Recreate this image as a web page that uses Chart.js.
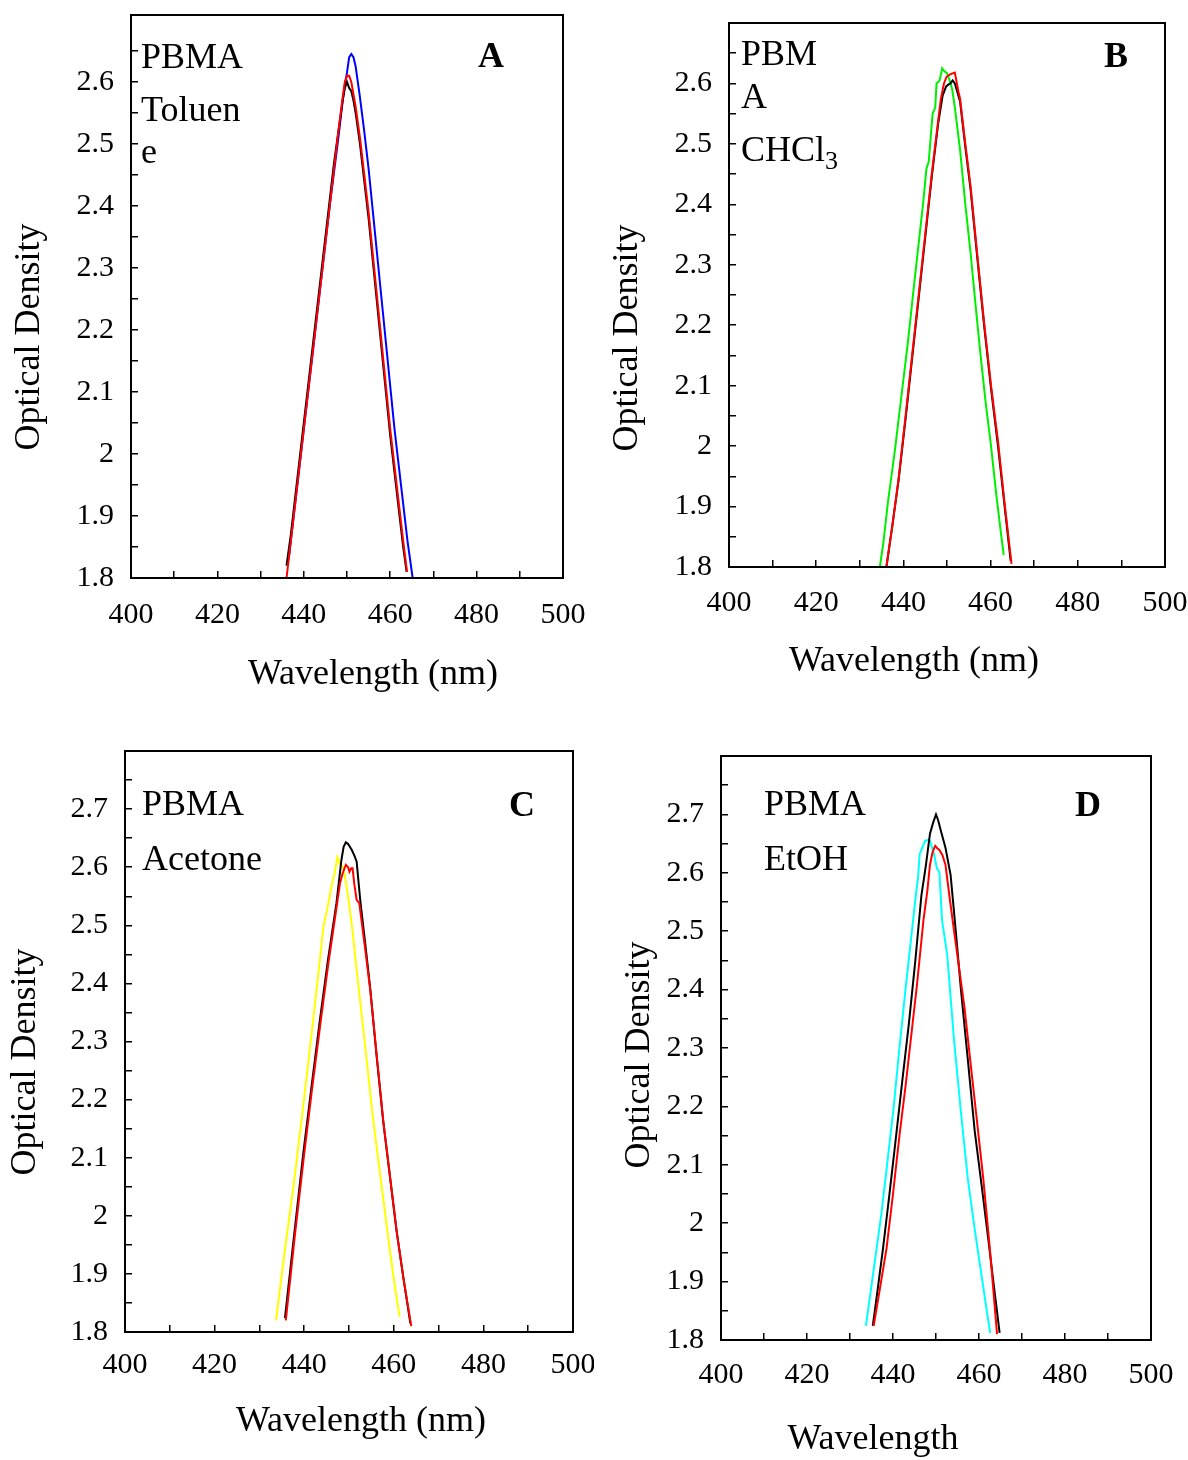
<!DOCTYPE html>
<html>
<head>
<meta charset="utf-8">
<script src="https://cdn.jsdelivr.net/npm/chart.js@4/dist/chart.umd.min.js"></script>
<style>
  body { margin: 0; background: #fff; width: 1188px; height: 1460px; position: relative; overflow: hidden; }
  canvas { position: absolute; }
</style>
</head>
<body>
<canvas id="cA"></canvas>
<canvas id="cB"></canvas>
<canvas id="cC"></canvas>
<canvas id="cD"></canvas>
<script>
// x ticks every 10 nm, labels every 20 nm; y ticks every 0.05, labels every 0.1
const xMin = 400, xMax = 500, xStep = 10, xLabelEvery = 20;
const yMin = 1.8, yStep = 0.05;

// --- A: PBMA / Toluene ---
const wlA_blue  = [436.5, 438, 440, 442, 444, 446, 448, 449, 449.5, 450, 450.5, 451, 451.5, 452, 453, 454, 455, 456, 457, 458, 459, 460, 461, 462, 463, 464, 465.2];
const odA_blue  = [1.83, 1.92, 2.04, 2.16, 2.28, 2.40, 2.51, 2.57, 2.595, 2.615, 2.64, 2.645, 2.64, 2.625, 2.575, 2.52, 2.46, 2.39, 2.32, 2.25, 2.18, 2.11, 2.04, 1.98, 1.92, 1.86, 1.80];
const wlA_black = [436, 437, 438, 439, 440, 441, 442, 443, 444, 445, 446, 447, 448, 449, 449.5, 450, 450.5, 451, 451.5, 452, 453, 454, 455, 456, 457, 458, 459, 460, 461, 462, 463, 463.8];
const odA_black = [1.82, 1.87, 1.93, 1.99, 2.05, 2.11, 2.17, 2.23, 2.29, 2.35, 2.41, 2.47, 2.52, 2.57, 2.59, 2.60, 2.59, 2.585, 2.57, 2.55, 2.50, 2.44, 2.38, 2.31, 2.24, 2.17, 2.10, 2.03, 1.97, 1.91, 1.85, 1.81];
const wlA_red   = [436, 437, 438, 439, 440, 441, 442, 443, 444, 445, 446, 447, 448, 449, 449.5, 450, 450.5, 451, 451.5, 452, 453, 454, 455, 456, 457, 458, 459, 460, 461, 462, 463, 463.9];
const odA_red   = [1.80, 1.86, 1.92, 1.98, 2.04, 2.10, 2.16, 2.22, 2.28, 2.34, 2.40, 2.46, 2.52, 2.575, 2.60, 2.61, 2.61, 2.60, 2.58, 2.56, 2.51, 2.45, 2.39, 2.32, 2.25, 2.18, 2.11, 2.04, 1.98, 1.92, 1.86, 1.81];

// --- B: PBMA / CHCl3 ---
const wlB_green = [434.6, 435.4, 436.5, 438, 439.5, 441, 442.8, 444.5, 445.3, 445.8, 446.7, 447.3, 447.6, 448.3, 448.9, 449.4, 450, 450.6, 451.2, 451.8, 453, 454.2, 455.4, 456.6, 457.7, 458.9, 460.1, 461.3, 462.3, 463];
const odB_green = [1.80, 1.84, 1.91, 1.99, 2.08, 2.17, 2.29, 2.40, 2.46, 2.47, 2.55, 2.56, 2.60, 2.605, 2.625, 2.62, 2.617, 2.605, 2.59, 2.56, 2.49, 2.40, 2.32, 2.23, 2.15, 2.07, 2.00, 1.92, 1.86, 1.82];
const wlB_black = [436.1, 437.5, 438.9, 440.5, 442, 443.5, 445, 446.5, 448, 449, 449.8, 450.3, 450.8, 451.3, 451.8, 452.2, 453, 454.2, 455.4, 456.9, 458.5, 460.1, 461.7, 463.3, 464.6];
const odB_black = [1.80, 1.87, 1.944, 2.045, 2.145, 2.245, 2.345, 2.445, 2.535, 2.58, 2.595, 2.598, 2.60, 2.605, 2.60, 2.59, 2.57, 2.495, 2.425, 2.315, 2.20, 2.095, 2.00, 1.895, 1.81];
const wlB_red   = [436.1, 437.5, 438.9, 440.5, 442, 443.5, 445, 446.5, 448, 448.6, 449.3, 449.9, 450.7, 451.8, 452.6, 453, 454.2, 455.4, 456.9, 458.5, 460.1, 461.7, 463.3, 464.8];
const odB_red   = [1.80, 1.87, 1.946, 2.05, 2.15, 2.25, 2.35, 2.45, 2.54, 2.575, 2.60, 2.611, 2.615, 2.618, 2.587, 2.575, 2.50, 2.43, 2.32, 2.205, 2.10, 2.008, 1.90, 1.805];

// --- C: PBMA / Acetone ---
const wlC_yellow = [433.7, 435.5, 437.6, 439.8, 442.0, 443.2, 444.3, 445.2, 446.1, 446.8, 447.4, 448.0, 448.7, 449.3, 449.8, 450.8, 451.7, 453.5, 455.4, 457.3, 459.2, 460.4, 461.3];
const odC_yellow = [1.82, 1.93, 2.05, 2.19, 2.337, 2.42, 2.498, 2.53, 2.567, 2.59, 2.617, 2.605, 2.60, 2.575, 2.549, 2.49, 2.423, 2.30, 2.165, 2.05, 1.936, 1.87, 1.826];
const wlC_black  = [435.7, 437.8, 439.8, 441.6, 443.5, 445.3, 447.2, 448.3, 448.8, 449.3, 449.8, 450.6, 451.2, 451.7, 452.5, 453.6, 454.7, 456.1, 457.6, 459.1, 460.6, 462.2, 463.7];
const odC_black  = [1.824, 1.97, 2.108, 2.22, 2.337, 2.44, 2.538, 2.612, 2.635, 2.643, 2.64, 2.63, 2.62, 2.61, 2.544, 2.47, 2.394, 2.28, 2.165, 2.07, 1.975, 1.89, 1.815];
const wlC_red    = [435.9, 437.9, 439.9, 441.7, 443.6, 445.4, 447.2, 448.0, 448.6, 449.3, 449.8, 450.1, 450.5, 450.8, 451.2, 451.7, 452.3, 453.6, 454.8, 456.2, 457.7, 459.2, 460.7, 462.3, 463.9];
const odC_red    = [1.82, 1.965, 2.10, 2.215, 2.33, 2.435, 2.53, 2.573, 2.59, 2.604, 2.60, 2.592, 2.598, 2.598, 2.57, 2.544, 2.538, 2.46, 2.385, 2.275, 2.16, 2.065, 1.97, 1.885, 1.81];

// --- D: PBMA / EtOH ---
const wlD_cyan  = [433.7, 435.5, 437.3, 438.7, 440.1, 441.5, 442.9, 444.1, 445.3, 445.8, 446.2, 446.9, 447.5, 448.2, 448.6, 449.0, 449.6, 450.2, 450.8, 451.4, 452.6, 454.2, 455.8, 457.4, 459.0, 460.6, 461.6, 462.6];
const odD_cyan  = [1.824, 1.92, 2.016, 2.105, 2.195, 2.30, 2.40, 2.48, 2.561, 2.59, 2.632, 2.645, 2.655, 2.656, 2.655, 2.645, 2.63, 2.608, 2.60, 2.519, 2.46, 2.313, 2.19, 2.076, 1.99, 1.91, 1.86, 1.812];
const wlD_black = [435.3, 436.5, 437.7, 439.1, 440.5, 442.1, 443.7, 445.2, 446.6, 447.6, 448.6, 449.3, 450.0, 450.5, 451.1, 452.2, 453.4, 454.6, 455.8, 457.4, 459.0, 460.6, 462.2, 463.5, 464.8];
const odD_black = [1.824, 1.89, 1.958, 2.045, 2.135, 2.24, 2.342, 2.45, 2.561, 2.61, 2.667, 2.685, 2.70, 2.69, 2.673, 2.643, 2.596, 2.50, 2.40, 2.28, 2.158, 2.065, 1.97, 1.89, 1.812];
const wlD_red   = [435.5, 437.0, 438.5, 440.0, 441.5, 443.0, 444.1, 445.6, 447.1, 448.0, 448.6, 449.2, 449.8, 450.3, 450.8, 451.5, 452.2, 453.3, 454.4, 455.5, 456.6, 458.1, 459.6, 461.0, 462.6, 464.2];
const odD_red   = [1.824, 1.89, 1.957, 2.05, 2.15, 2.24, 2.312, 2.41, 2.52, 2.57, 2.614, 2.635, 2.646, 2.642, 2.639, 2.63, 2.614, 2.55, 2.49, 2.43, 2.371, 2.27, 2.17, 2.076, 1.95, 1.81];

const serif = '"Liberation Serif", "Times New Roman", serif';

function pts(wl, od) {
    return wl.map((w, i) => ({ x: w, y: od[i] }));
}

const frame = {
    id: 'frame',
    afterDraw(chart) {
        const { ctx, chartArea: a } = chart;
        ctx.save();
        ctx.strokeStyle = '#000';
        ctx.lineWidth = 2;
        ctx.strokeRect(a.left, a.top, a.right - a.left, a.bottom - a.top);
        ctx.restore();
    }
};

function textPlugin(items) {
    return {
        id: 'texts',
        afterDraw(chart) {
            const ctx = chart.ctx;
            ctx.save();
            ctx.fillStyle = '#000';
            items.forEach(t => {
                ctx.font = t.font;
                ctx.textAlign = t.align || 'left';
                ctx.textBaseline = t.base || 'alphabetic';
                if (t.rot) {
                    ctx.save();
                    ctx.translate(t.x, t.y);
                    ctx.rotate(-Math.PI / 2);
                    ctx.fillText(t.text, 0, 0);
                    ctx.restore();
                } else {
                    ctx.fillText(t.text, t.x, t.y);
                    if (t.sub) {
                        const w = ctx.measureText(t.text).width;
                        ctx.font = t.subFont;
                        ctx.fillText(t.sub, t.x + w, t.y + 8);
                    }
                }
            });
            ctx.restore();
        }
    };
}

// label overhang would otherwise push the plot box around
function noOverhang(s) {
    s.paddingTop = 0;
    s.paddingBottom = 0;
    s.paddingLeft = 0;
    s.paddingRight = 0;
}

function makeChart(id, p, series) {
    const canvas = document.getElementById(id);
    canvas.width = p.w;
    canvas.height = p.h;
    canvas.style.left = p.left + 'px';
    canvas.style.top = p.top + 'px';

    const tickFont = { family: serif, size: 30 };
    const hideTop = ctx => (ctx.tick && ctx.tick.value > p.yMax - 0.02) ? 'rgba(0,0,0,0)' : '#000';

    new Chart(canvas, {
        type: 'line',
        data: {
            // first dataset ends up drawn on top
            datasets: series.map(s => ({
                data: pts(s.wl, s.od),
                borderColor: s.color,
                borderWidth: 2,
                pointRadius: 0,
                tension: 0,
                fill: false
            }))
        },
        options: {
            responsive: false,
            animation: false,
            layout: { padding: { top: p.area.t, right: p.w - p.area.r, left: 0, bottom: 0 } },
            plugins: { legend: { display: false }, tooltip: { enabled: false } },
            scales: {
                x: {
                    type: 'linear',
                    min: xMin,
                    max: xMax,
                    afterFit: s => { s.height = p.h - p.area.b; noOverhang(s); },
                    border: { display: false },
                    grid: { drawOnChartArea: false, tickLength: -7, color: '#000', lineWidth: 1.5 },
                    ticks: {
                        stepSize: xStep,
                        autoSkip: false,
                        maxRotation: 0,
                        padding: p.xPad + 7,
                        color: '#000',
                        font: tickFont,
                        callback: v => (v % xLabelEvery === 0 ? String(v) : '')
                    }
                },
                y: {
                    type: 'linear',
                    min: yMin,
                    max: p.yMax,
                    afterFit: s => { s.width = p.area.l; noOverhang(s); },
                    border: { display: false },
                    grid: { drawOnChartArea: false, tickLength: -7, color: '#000', tickColor: hideTop, lineWidth: 1.5 },
                    ticks: {
                        stepSize: yStep,
                        includeBounds: false,
                        autoSkip: false,
                        padding: 24,
                        color: '#000',
                        font: tickFont,
                        callback: v => {
                            const r = Math.round(v * 100);
                            if (r % 10 !== 0 || v > p.yMax - 0.02) return '';
                            return String(r / 100);
                        }
                    }
                }
            }
        },
        plugins: [frame, textPlugin(p.texts)]
    });
}

const big = '36px ' + serif;
const bold = 'bold 36px ' + serif;

makeChart('cA', {
    left: 0, top: 0, w: 594, h: 730,
    area: { l: 131, t: 15, r: 563, b: 578 }, yMax: 2.708, xPad: 19,
    texts: [
        { text: 'PBMA', x: 141, y: 68, font: big },
        { text: 'Toluen', x: 141, y: 121, font: big },
        { text: 'e', x: 141, y: 163, font: big },
        { text: 'A', x: 491, y: 67, font: bold, align: 'center' },
        { text: 'Optical Density', x: 30, y: 337, font: big, align: 'center', base: 'middle', rot: true },
        { text: 'Wavelength (nm)', x: 373, y: 675, font: big, align: 'center', base: 'middle' }
    ]
}, [
    { wl: wlA_red, od: odA_red, color: '#ff0000' },
    { wl: wlA_black, od: odA_black, color: '#000000' },
    { wl: wlA_blue, od: odA_blue, color: '#0000ff' }
]);

makeChart('cB', {
    left: 594, top: 0, w: 594, h: 730,
    area: { l: 135, t: 23, r: 571, b: 567 }, yMax: 2.70, xPad: 18,
    texts: [
        { text: 'PBM', x: 147, y: 65, font: big },
        { text: 'A', x: 147, y: 108, font: big },
        { text: 'CHCl', sub: '3', subFont: '26px ' + serif, x: 147, y: 161, font: big },
        { text: 'B', x: 522, y: 67, font: bold, align: 'center' },
        { text: 'Optical Density', x: 34, y: 338, font: big, align: 'center', base: 'middle', rot: true },
        { text: 'Wavelength (nm)', x: 320, y: 662, font: big, align: 'center', base: 'middle' }
    ]
}, [
    { wl: wlB_red, od: odB_red, color: '#ff0000' },
    { wl: wlB_black, od: odB_black, color: '#000000' },
    { wl: wlB_green, od: odB_green, color: '#00ee00' }
]);

makeChart('cC', {
    left: 0, top: 730, w: 594, h: 730,
    area: { l: 125, t: 21, r: 573, b: 602 }, yMax: 2.80, xPad: 15,
    texts: [
        { text: 'PBMA', x: 142, y: 85, font: big },
        { text: 'Acetone', x: 142, y: 140, font: big },
        { text: 'C', x: 522, y: 86, font: bold, align: 'center' },
        { text: 'Optical Density', x: 26, y: 332, font: big, align: 'center', base: 'middle', rot: true },
        { text: 'Wavelength (nm)', x: 361, y: 692, font: big, align: 'center', base: 'middle' }
    ]
}, [
    { wl: wlC_red, od: odC_red, color: '#ff0000' },
    { wl: wlC_black, od: odC_black, color: '#000000' },
    { wl: wlC_yellow, od: odC_yellow, color: '#ffff00' }
]);

makeChart('cD', {
    left: 594, top: 730, w: 594, h: 730,
    area: { l: 127, t: 26, r: 557, b: 610 }, yMax: 2.80, xPad: 17,
    texts: [
        { text: 'PBMA', x: 170, y: 85, font: big },
        { text: 'EtOH', x: 170, y: 140, font: big },
        { text: 'D', x: 494, y: 86, font: bold, align: 'center' },
        { text: 'Optical Density', x: 46, y: 325, font: big, align: 'center', base: 'middle', rot: true },
        { text: 'Wavelength', x: 279, y: 710, font: big, align: 'center', base: 'middle' }
    ]
}, [
    { wl: wlD_red, od: odD_red, color: '#ff0000' },
    { wl: wlD_black, od: odD_black, color: '#000000' },
    { wl: wlD_cyan, od: odD_cyan, color: '#00ffff' }
]);
</script>
</body>
</html>
